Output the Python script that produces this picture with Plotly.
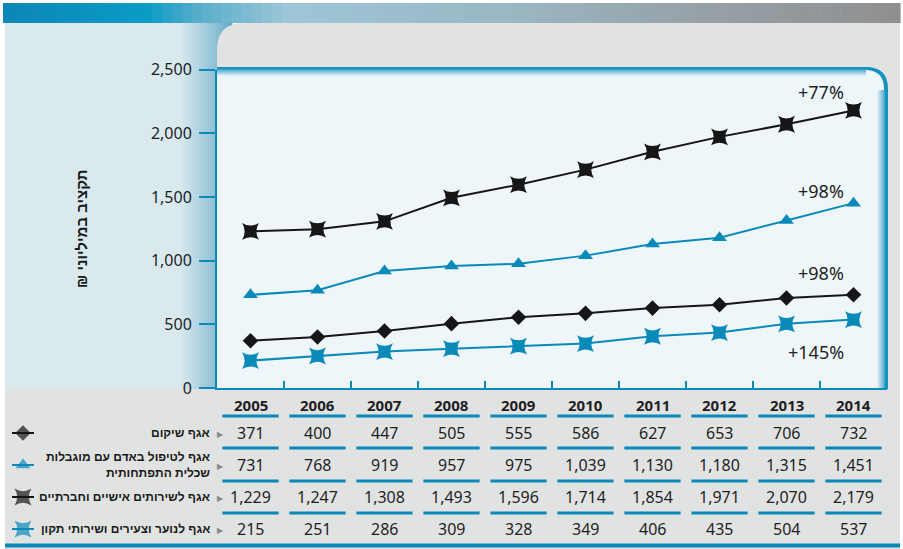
import plotly.graph_objects as go

# budget per department, millions NIS
years = ['2005', '2006', '2007', '2008', '2009', '2010', '2011', '2012', '2013', '2014']
rehab = [371, 400, 447, 505, 555, 586, 627, 653, 706, 732]
disability = [731, 768, 919, 957, 975, 1039, 1130, 1180, 1315, 1451]
social = [1229, 1247, 1308, 1493, 1596, 1714, 1854, 1971, 2070, 2179]
youth = [215, 251, 286, 309, 328, 349, 406, 435, 504, 537]

row_names = ['אגף שיקום',
             'אגף לטיפול באדם עם מוגבלות<br>שכלית התפתחותית',
             'אגף לשירותים אישיים וחברתיים',
             'אגף לנוער וצעירים ושירותי תקון']
growth = ['+98%', '+98%', '+77%', '+145%']
y_ticks = [0, 500, 1000, 1500, 2000, 2500]
y_title = 'תקציב במיליוני ₪\u200f'

BLUE = '#0a8ab9'
BLACK = '#161616'
GRAY_BG = '#e1e3e3'
W, H = 903, 549


def px_x(p):
    return p / W


def px_y(p):
    return 1 - p / H


def mix(c1, c2, t):
    a = [int(c1[i:i + 2], 16) for i in (1, 3, 5)]
    b = [int(c2[i:i + 2], 16) for i in (1, 3, 5)]
    return '#%02x%02x%02x' % tuple(round(a[k] + (b[k] - a[k]) * t) for k in range(3))


def grad_color(stops, t):
    for (t0, c0), (t1, c1) in zip(stops, stops[1:]):
        if t <= t1:
            return mix(c0, c1, (t - t0) / (t1 - t0) if t1 > t0 else 0)
    return stops[-1][1]


shapes = []


def rect(x0, x1, y0, y1, color):
    shapes.append(dict(type='rect', xref='paper', yref='paper', x0=px_x(x0), x1=px_x(x1),
                       y0=px_y(y0), y1=px_y(y1), fillcolor=color, line=dict(width=0), layer='below'))


def path(points, color):
    parts = []
    for p in points:
        if isinstance(p, str):
            parts.append(p)
        else:
            parts.append('%.5f,%.5f' % (px_x(p[0]), px_y(p[1])))
    shapes.append(dict(type='path', xref='paper', yref='paper', layer='below', fillcolor=color,
                       line=dict(width=0), path=' '.join(parts)))


def hgrad(x0, x1, y0, y1, stops, n):
    step = (x1 - x0) / n
    for i in range(n):
        rect(x0 + i * step, x0 + (i + 1) * step + 0.6, y0, y1, grad_color(stops, (i + 0.5) / n))


def vgrad(x0, x1, y0, y1, stops, n):
    step = (y1 - y0) / n
    for i in range(n):
        rect(x0, x1, y0 + i * step, y0 + (i + 1) * step + 0.6, grad_color(stops, (i + 0.5) / n))


# banner
hgrad(3, 900, 3, 23, [(0, '#0a86b5'), (0.16, '#0a9cc6'), (0.22, '#5aaecb'), (0.32, '#9ec6d8'),
                      (0.55, '#9ab8c4'), (0.8, '#969fa5'), (1, '#8f8f8f')], 90)
# left panel
rect(5, 217, 23, 389, '#d9e9ee')
hgrad(180, 232, 23, 389, [(0, '#d9e9ee'), (0.7, '#8cbfd4'), (1, '#5aa9ca')], 20)
# gray area with rounded corner
path(['M', (217, 50), 'Q', (217, 23), (244, 23), 'L', (900, 23), 'L', (900, 549), 'L', (5, 549),
      'L', (5, 389), 'L', (217, 389), 'Z'], GRAY_BG)
# plot area
path(['M', (217, 67), 'L', (866, 67), 'Q', (888, 67), (888, 89), 'L', (888, 389), 'L', (217, 389), 'Z'],
     '#1592bf')
path(['M', (217, 70), 'L', (865, 70), 'Q', (884, 70), (884, 89), 'L', (884, 388), 'L', (217, 388), 'Z'],
     '#eef6f9')
vgrad(217, 866, 69.5, 76, [(0, '#4aa8cc'), (1, '#eef6f9')], 6)
hgrad(877, 884, 90, 388, [(0, '#eef6f9'), (1, '#5bb0d0')], 7)
# table lines
for y in [416, 448, 481, 513]:
    for i in range(len(years)):
        shapes.append(dict(type='line', xref='x', yref='paper', x0=i - 0.42, x1=i + 0.42,
                           y0=px_y(y), y1=px_y(y), line=dict(color=BLUE, width=3), layer='below'))
shapes.append(dict(type='line', xref='paper', yref='paper', x0=px_x(5), x1=px_x(900),
                   y0=px_y(545.5), y1=px_y(545.5), line=dict(color=BLUE, width=4), layer='below'))

fig = go.Figure()

series = [rehab, disability, social, youth]
colors = [BLACK, BLUE, BLACK, BLUE]
symbols = ['diamond', 'triangle-up', 'star-diamond', 'star-diamond']
angles = [0, 0, 45, 45]
sizes = [12, 13, 17, 17]
label_shift = [22, 12, 18, -32]

for k in [2, 1, 0, 3]:
    fig.add_trace(go.Scatter(x=years, y=series[k], mode='lines+markers', name=row_names[k].replace('<br>', ' '),
                             line=dict(color=colors[k], width=2),
                             marker=dict(symbol=symbols[k], size=sizes[k], angle=angles[k], color=colors[k],
                                         line=dict(width=0)),
                             xaxis='x', yaxis='y', showlegend=False))

# legend keys inside the table (small helper subplot, one unit per row)
for k in range(4):
    fig.add_trace(go.Scatter(x=[0, 1, 2], y=[k] * 3, mode='lines+markers',
                             line=dict(color=colors[k], width=2),
                             marker=dict(symbol=symbols[k], size=[0, sizes[k], 0], angle=angles[k],
                                         color=colors[k], line=dict(width=0)),
                             xaxis='x2', yaxis='y2', showlegend=False, hoverinfo='skip'))

row_y = [433, 465, 497, 529]
annotations = []
num_font = dict(family='Noto Sans, DejaVu Sans', size=16, color='#1f1f1f')
for i, yr in enumerate(years):
    annotations.append(dict(x=i, xref='x', y=px_y(405), yref='paper', yanchor='middle',
                            text='<b>' + yr + '</b>', showarrow=False,
                            font=dict(family='Noto Sans, DejaVu Sans', size=15, color='#1f1f1f')))
    for k in range(4):
        annotations.append(dict(x=i, xref='x', y=px_y(row_y[k]), yref='paper', yanchor='middle',
                                text=f'{series[k][i]:,}', showarrow=False, font=num_font))
for k in range(4):
    annotations.append(dict(x=px_x(212), xref='paper', y=px_y(row_y[k]), yref='paper', xanchor='right',
                            yanchor='middle', text='<b>' + row_names[k] + '</b>', showarrow=False, align='right',
                            font=dict(family='Liberation Sans, DejaVu Sans', size=12, color='#1a1a1a')))
    annotations.append(dict(x=px_x(220), xref='paper', y=px_y(row_y[k]), yref='paper', xanchor='center',
                            yanchor='middle', text='▶', showarrow=False, font=dict(size=8, color='#8a8a8a')))
    annotations.append(dict(x=len(years) - 1, xref='x', y=series[k][-1], yref='y', text=growth[k],
                            xanchor='right', xshift=-8, yshift=label_shift[k], showarrow=False,
                            font=dict(family='Noto Sans, DejaVu Sans', size=18, color='#1f1f1f')))
annotations.append(dict(x=px_x(82), xref='paper', y=px_y(229), yref='paper', xanchor='center', yanchor='middle',
                        text='<b>' + y_title + '</b>', textangle=-90, showarrow=False,
                        font=dict(family='Liberation Sans, DejaVu Sans', size=15, color='#1a1a1a')))

fig.update_layout(
    width=W, height=H, autosize=False,
    margin=dict(l=0, r=0, t=0, b=0, pad=0, autoexpand=False),
    paper_bgcolor='white', plot_bgcolor='rgba(0,0,0,0)',
    shapes=shapes, annotations=annotations,
    xaxis=dict(domain=[px_x(217), px_x(887)], type='category', range=[-0.5, 9.5],
               showline=True, linecolor=BLUE, linewidth=2, ticks='inside', tickson='boundaries',
               ticklen=7, tickwidth=2, tickcolor=BLUE, showticklabels=False, showgrid=False,
               zeroline=False, fixedrange=True, anchor='y', automargin=False),
    yaxis=dict(domain=[px_y(388), px_y(69.5)], range=[0, 2500], tickvals=y_ticks, tickformat=',',
               ticks='outside', ticklen=16, tickwidth=2, tickcolor=BLUE, showline=True, linecolor=BLUE,
               linewidth=2, showgrid=False, zeroline=False, ticklabelstandoff=4, anchor='x', automargin=False,
               tickfont=dict(family='Noto Sans, DejaVu Sans', size=16, color='#1f1f1f'), fixedrange=True),
    xaxis2=dict(domain=[px_x(12), px_x(34)], range=[0, 2], visible=False, anchor='y2', fixedrange=True),
    yaxis2=dict(domain=[px_y(529 + 16), px_y(433 - 16)], range=[3.5, -0.5], visible=False, anchor='x2',
                fixedrange=True),
)

# page body has a default 8px margin; drop it so the figure sits at the window corner
fig.write_html("out.html", config={'displayModeBar': False},
               post_script="document.body.style.margin='0';document.body.style.overflow='hidden';")
